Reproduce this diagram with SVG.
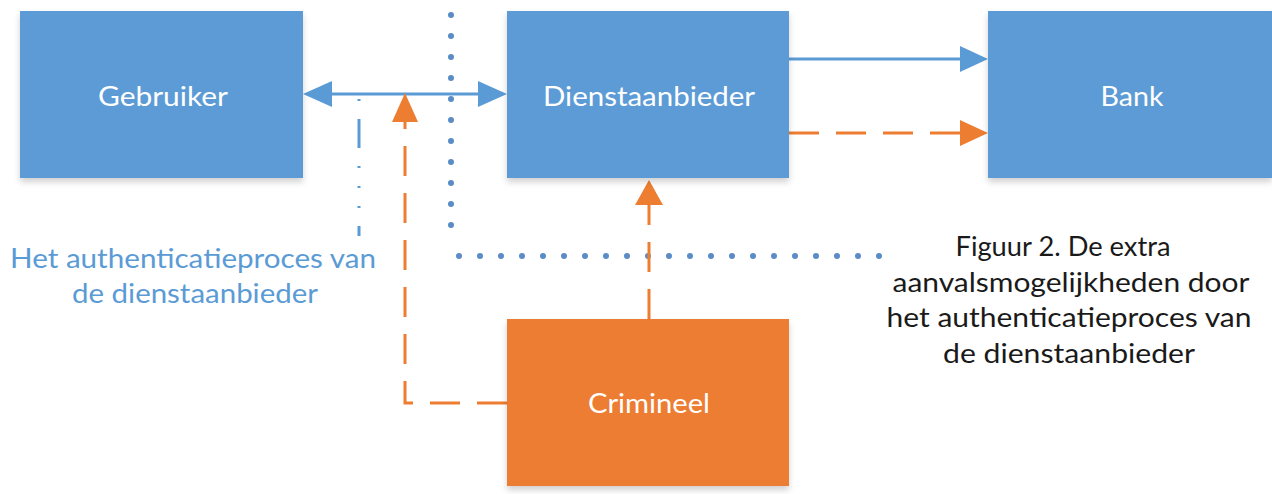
<svg xmlns="http://www.w3.org/2000/svg" width="1272" height="494" viewBox="0 0 1272 494">
  <defs>
    <filter id="shadow" x="-10%" y="-10%" width="120%" height="130%">
      <feDropShadow dx="0" dy="4" stdDeviation="3" flood-color="#000" flood-opacity="0.18"/>
    </filter>
  </defs>
  <style>
    .box-blue { fill: #5B9BD5; filter: url(#shadow); }
    .box-orange { fill: #ED7D31; filter: url(#shadow); }
    .label { font-family: Lato, "Liberation Sans", sans-serif; font-size: 27px; fill: #FFFFFF; text-anchor: middle; }
    .note { font-family: Lato, "Liberation Sans", sans-serif; font-size: 27px; text-anchor: middle; }
    .blue-line { stroke: #5B9BD5; stroke-width: 3; fill: none; }
    .orange-dash { stroke: #ED7D31; stroke-width: 3; fill: none; stroke-dasharray: 30 17; }
    .blue-head { fill: #5B9BD5; }
    .orange-head { fill: #ED7D31; }
    .dotted { stroke: #5A8CC6; stroke-width: 6; fill: none; stroke-linecap: round; stroke-dasharray: 0 21; }
    .dashdot { stroke: #5B9BD5; stroke-width: 3; fill: none; stroke-dasharray: 2 18 29 18 2 18 2 18; }
  </style>

  <rect width="1272" height="494" fill="#FFFFFF"/>

  <!-- connectors -->
  <g id="connectors">
    <!-- boundary of the authentication process -->
    <path class="dotted" d="M451 15 V246 M459 256 H881"/>
    <path class="dashdot" d="M359 99 V236"/>

    <!-- Gebruiker <-> Dienstaanbieder -->
    <path class="blue-line" d="M330 94 H482"/>
    <polygon class="blue-head" points="303,94 332,81 332,107"/>
    <polygon class="blue-head" points="507,94 478,81 478,107"/>

    <!-- Dienstaanbieder -> Bank -->
    <path class="blue-line" d="M789 59 H962"/>
    <polygon class="blue-head" points="988,59 960,46 960,72"/>
    <path class="orange-dash" d="M789 133 H962"/>
    <polygon class="orange-head" points="988,133 960,120 960,146"/>

    <!-- Crimineel -> channel between Gebruiker and Dienstaanbieder -->
    <path class="orange-dash" d="M507 403 H405 V120"/>
    <polygon class="orange-head" points="405,93 392,122 418,122"/>

    <!-- Crimineel -> Dienstaanbieder -->
    <path class="orange-dash" d="M649 319 V203"/>
    <polygon class="orange-head" points="649,180 635,205 663,205"/>
  </g>

  <g id="gebruiker">
    <rect class="box-blue" x="20" y="11" width="283" height="167"/>
    <text class="label" x="163" y="106" textLength="130" lengthAdjust="spacingAndGlyphs">Gebruiker</text>
  </g>

  <g id="dienstaanbieder">
    <rect class="box-blue" x="507" y="11" width="282" height="167"/>
    <text class="label" x="649" y="106" textLength="212" lengthAdjust="spacingAndGlyphs">Dienstaanbieder</text>
  </g>

  <g id="bank">
    <rect class="box-blue" x="988" y="11" width="284" height="167"/>
    <text class="label" x="1132" y="106" textLength="63" lengthAdjust="spacingAndGlyphs">Bank</text>
  </g>

  <g id="crimineel">
    <rect class="box-orange" x="507" y="319" width="282" height="167"/>
    <text class="label" x="649" y="413" textLength="122" lengthAdjust="spacingAndGlyphs" fill="#FFF6E8">Crimineel</text>
  </g>

  <g id="proces-label">
    <text class="note" fill="#5B9BD5" x="193" y="268" textLength="366" lengthAdjust="spacingAndGlyphs">Het authenticatieproces van</text>
    <text class="note" fill="#5B9BD5" x="195" y="303" textLength="246" lengthAdjust="spacingAndGlyphs">de dienstaanbieder</text>
  </g>

  <g id="caption">
    <text class="note" fill="#1A1A1A" x="1063" y="256" textLength="215" lengthAdjust="spacingAndGlyphs">Figuur 2. De extra</text>
    <text class="note" fill="#1A1A1A" x="1071" y="292" textLength="357" lengthAdjust="spacingAndGlyphs">aanvalsmogelijkheden door</text>
    <text class="note" fill="#1A1A1A" x="1069" y="327" textLength="365" lengthAdjust="spacingAndGlyphs">het authenticatieproces van</text>
    <text class="note" fill="#1A1A1A" x="1069" y="363" textLength="252" lengthAdjust="spacingAndGlyphs">de dienstaanbieder</text>
  </g>
</svg>
